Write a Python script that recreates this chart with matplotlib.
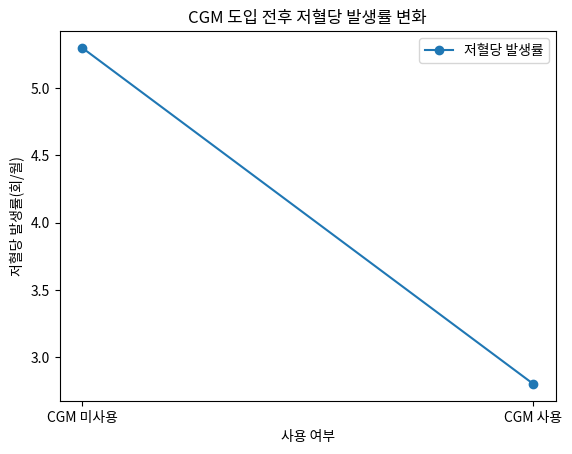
import matplotlib
matplotlib.use("Agg")
import matplotlib.pyplot as plt

plt.rcParams['font.family'] = ['Noto Sans CJK KR', 'DejaVu Sans']

# data
categories = ['CGM 미사용', 'CGM 사용']
rates = [5.3, 2.8]

fig, ax = plt.subplots()
ax.plot(categories, rates, marker='o', label='저혈당 발생률')
ax.set_title('CGM 도입 전후 저혈당 발생률 변화')
ax.set_xlabel('사용 여부')
ax.set_ylabel('저혈당 발생률(회/월)')
ax.legend()

fig.savefig('out.png', bbox_inches='tight')
